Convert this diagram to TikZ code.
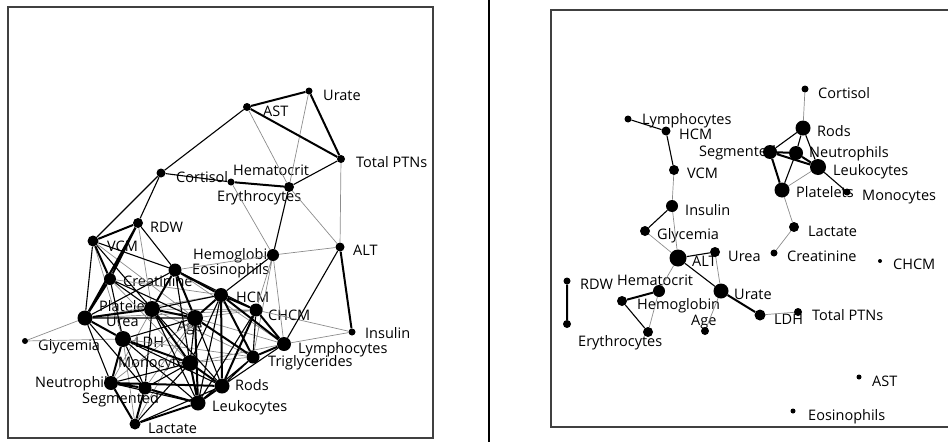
\documentclass[tikz,border=0pt]{standalone}
\usepackage{fontspec}
\setmainfont{Open Sans}
\usepackage{tikz}
\pgfdeclarelayer{labels}
\pgfdeclarelayer{edges}
\pgfsetlayers{labels,edges,main}

\begin{document}
\begin{tikzpicture}[
    x=1pt, y=-1pt,
    vtx/.style={circle, fill=black, inner sep=0pt, minimum size=#1},
    lbl/.style={anchor=west, inner sep=0pt, text height=9.5pt, text depth=2.5pt,
                font=\fontsize{14.5}{16}\selectfont},
    edge-strong/.style={line width=2pt},
    edge-mid/.style={line width=1.1pt},
    edge-weak/.style={line width=0.7pt, black!45},
    frame/.style={line width=1.3pt, black!75}
]
    \useasboundingbox (0,0) rectangle (948,442);

    % Frames
    \draw[frame] (8,7) rectangle (433,438);
    \draw[line width=1.6pt] (489,0) -- (489,442);
    \draw[frame] (948,10) -- (551,10) -- (551,427) -- (948,427);

    % Left network: vertices
    \node[vtx=7pt] (l-urate) at (309,91) {};
    \node[vtx=8pt] (l-ast) at (247,107) {};
    \node[vtx=8pt] (l-tptn) at (341,159) {};
    \node[vtx=9pt] (l-cort) at (161,173) {};
    \node[vtx=7pt] (l-hct) at (231,182) {};
    \node[vtx=10pt] (l-ery) at (289,187) {};
    \node[vtx=10pt] (l-rdw) at (138,223) {};
    \node[vtx=11pt] (l-vcm) at (93,241) {};
    \node[vtx=12pt] (l-hgb) at (273,255) {};
    \node[vtx=9pt] (l-alt) at (340,247) {};
    \node[vtx=13pt] (l-eos) at (175,270) {};
    \node[vtx=12pt] (l-crea) at (110,279) {};
    \node[vtx=14pt] (l-hcm) at (221,295) {};
    \node[vtx=13pt] (l-chcm) at (256,310) {};
    \node[vtx=15pt] (l-plt) at (85,318) {};
    \node[vtx=16pt] (l-urea) at (152,309) {};
    \node[vtx=16pt] (l-age) at (195,318) {};
    \node[vtx=16pt] (l-ldh) at (123,339) {};
    \node[vtx=7pt] (l-ins) at (352,332) {};
    \node[vtx=6pt] (l-gly) at (25,341) {};
    \node[vtx=14pt] (l-lym) at (284,344) {};
    \node[vtx=13pt] (l-tg) at (253,357) {};
    \node[vtx=16pt] (l-mono) at (190,363) {};
    \node[vtx=14pt] (l-neu) at (111,383) {};
    \node[vtx=13pt] (l-seg) at (145,388) {};
    \node[vtx=15pt] (l-rods) at (222,386) {};
    \node[vtx=15pt] (l-leu) at (198,403) {};
    \node[vtx=11pt] (l-lac) at (135,424) {};

    % Left network: labels
    \begin{pgfonlayer}{labels}
    \node[lbl] (l-urate-t) at (323,97) {Urate};
    \node[lbl] (l-ast-t) at (263,113) {AST};
    \node[lbl] (l-tptn-t) at (356,164) {Total PTNs};
    \node[lbl] (l-cort-t) at (176,179) {Cortisol};
    \node[lbl] (l-hct-t) at (233,172) {Hematocrit};
    \node[lbl] (l-ery-t) at (217,198) {Erythrocytes};
    \node[lbl] (l-rdw-t) at (150,229) {RDW};
    \node[lbl] (l-vcm-t) at (107,248) {VCM};
    \node[lbl] (l-alt-t) at (353,252) {ALT};
    \node[lbl] (l-hgb-t) at (193,256) {Hemoglobin};
    \node[lbl] (l-eos-t) at (192,271) {Eosinophils};
    \node[lbl] (l-crea-t) at (123,283) {Creatinine};
    \node[lbl] (l-hcm-t) at (236,299) {HCM};
    \node[lbl] (l-chcm-t) at (268,317) {CHCM};
    \node[lbl] (l-plt-t) at (99,308) {Platelets};
    \node[lbl] (l-urea-t) at (106,323) {Urea};
    \node[lbl] (l-age-t) at (177,328) {Age};
    \node[lbl] (l-ins-t) at (365,335) {Insulin};
    \node[lbl] (l-gly-t) at (38,347) {Glycemia};
    \node[lbl] (l-ldh-t) at (135,344) {LDH};
    \node[lbl] (l-lym-t) at (298,349.5) {Lymphocytes};
    \node[lbl] (l-tg-t) at (268,363) {Triglycerides};
    \node[lbl] (l-mono-t) at (118,364) {Monocytes};
    \node[lbl] (l-neu-t) at (35,384) {Neutrophils};
    \node[lbl] (l-seg-t) at (82,400) {Segmented};
    \node[lbl] (l-rods-t) at (235,387) {Rods};
    \node[lbl] (l-leu-t) at (212,408) {Leukocytes};
    \node[lbl] (l-lac-t) at (148,430) {Lactate};
    \end{pgfonlayer}

    % Left network: edges
    \begin{pgfonlayer}{edges}
    \draw[edge-weak] (l-ast) -- (l-ery) (l-urate) -- (l-ery) (l-tptn) -- (l-alt)
        (l-hct) -- (l-hgb) (l-ery) -- (l-alt) (l-hgb) -- (l-alt) (l-hgb) -- (l-chcm)
        (l-hgb) -- (l-lym) (l-chcm) -- (l-ins) (l-lym) -- (l-ins) (l-gly) -- (l-plt)
        (l-gly) -- (l-ldh) (l-rdw) -- (l-urea) (l-vcm) -- (l-age) (l-vcm) -- (l-ldh)
        (l-eos) -- (l-lym) (l-crea) -- (l-hcm) (l-plt) -- (l-hcm) (l-urea) -- (l-chcm)
        (l-age) -- (l-chcm) (l-age) -- (l-lym) (l-ldh) -- (l-tg) (l-mono) -- (l-tg)
        (l-mono) -- (l-lym) (l-neu) -- (l-age) (l-seg) -- (l-age) (l-lac) -- (l-age)
        (l-crea) -- (l-mono) (l-urea) -- (l-tg) (l-hgb) -- (l-tg) (l-ldh) -- (l-lac)
        (l-neu) -- (l-urea) (l-plt) -- (l-chcm) (l-hgb) -- (l-eos);
    \draw[edge-mid] (l-cort) -- (l-ast) (l-cort) -- (l-hct) (l-cort) -- (l-vcm)
        (l-cort) -- (l-rdw) (l-tptn) -- (l-ery) (l-rdw) -- (l-eos) (l-vcm) -- (l-eos)
        (l-vcm) -- (l-plt) (l-hgb) -- (l-ery) (l-hgb) -- (l-hcm) (l-alt) -- (l-lym)
        (l-plt) -- (l-age) (l-urea) -- (l-hcm) (l-ldh) -- (l-age) (l-tg) -- (l-rods)
        (l-tg) -- (l-leu) (l-lym) -- (l-rods) (l-chcm) -- (l-leu) (l-age) -- (l-mono)
        (l-hcm) -- (l-mono) (l-hcm) -- (l-leu) (l-urea) -- (l-rods) (l-urea) -- (l-leu)
        (l-urea) -- (l-seg) (l-ldh) -- (l-rods) (l-ldh) -- (l-leu) (l-neu) -- (l-mono)
        (l-seg) -- (l-mono) (l-mono) -- (l-lac) (l-neu) -- (l-leu) (l-rods) -- (l-lac)
        (l-plt) -- (l-neu) (l-plt) -- (l-seg) (l-crea) -- (l-urea) (l-crea) -- (l-ldh)
        (l-crea) -- (l-age) (l-ldh) -- (l-seg) (l-eos) -- (l-chcm) (l-eos) -- (l-mono)
        (l-age) -- (l-rods) (l-chcm) -- (l-tg) (l-vcm) -- (l-urea) (l-eos) -- (l-plt);
    \draw[edge-strong] (l-ast) -- (l-urate) (l-ast) -- (l-tptn) (l-urate) -- (l-tptn)
        (l-hct) -- (l-ery) (l-alt) -- (l-ins) (l-rdw) -- (l-vcm) (l-rdw) -- (l-crea)
        (l-vcm) -- (l-crea) (l-crea) -- (l-plt) (l-plt) -- (l-ldh) (l-rdw) -- (l-plt)
        (l-urea) -- (l-eos) (l-urea) -- (l-age) (l-eos) -- (l-age) (l-hcm) -- (l-age)
        (l-hcm) -- (l-chcm) (l-hcm) -- (l-lym) (l-chcm) -- (l-lym) (l-age) -- (l-tg)
        (l-hcm) -- (l-tg) (l-chcm) -- (l-rods) (l-hcm) -- (l-rods) (l-age) -- (l-leu)
        (l-mono) -- (l-rods) (l-mono) -- (l-leu) (l-neu) -- (l-seg) (l-neu) -- (l-rods)
        (l-seg) -- (l-leu) (l-neu) -- (l-lac) (l-seg) -- (l-lac) (l-leu) -- (l-lac)
        (l-rods) -- (l-leu) (l-ldh) -- (l-neu) (l-ldh) -- (l-mono) (l-urea) -- (l-mono)
        (l-plt) -- (l-urea) (l-eos) -- (l-hcm) (l-tg) -- (l-lym);
    \end{pgfonlayer}

    % Right network: vertices
    \node[vtx=7pt] (r-cort) at (805,89) {};
    \node[vtx=15pt] (r-rods) at (803,128) {};
    \node[vtx=14pt] (r-seg) at (770,152) {};
    \node[vtx=14pt] (r-neu) at (796,153) {};
    \node[vtx=16pt] (r-leu) at (818,167) {};
    \node[vtx=15pt] (r-plt) at (782,190) {};
    \node[vtx=7pt] (r-mono) at (847,192) {};
    \node[vtx=7pt] (r-lym) at (628,119) {};
    \node[vtx=9pt] (r-hcm) at (666,131) {};
    \node[vtx=10pt] (r-vcm) at (674,170) {};
    \node[vtx=12pt] (r-ins) at (672,206) {};
    \node[vtx=10pt] (r-lac) at (794,227) {};
    \node[vtx=10pt] (r-gly) at (645,231) {};
    \node[vtx=17pt] (r-alt) at (678,258) {};
    \node[vtx=10pt] (r-urea) at (715,252) {};
    \node[vtx=7pt] (r-crea) at (774,253) {};
    \node[vtx=4pt] (r-chcm) at (880,261) {};
    \node[vtx=7pt] (r-rdw) at (567,281) {};
    \node[vtx=12pt] (r-hct) at (659,291) {};
    \node[vtx=10pt] (r-hgb) at (622,301) {};
    \node[vtx=15pt] (r-urate) at (721,291) {};
    \node[vtx=11pt] (r-ldh) at (760,315) {};
    \node[vtx=8pt] (r-tptn) at (798,312) {};
    \node[vtx=8pt] (r-age) at (705,331) {};
    \node[vtx=10pt] (r-ery) at (648,332) {};
    \node[vtx=8pt] (r-tg) at (567,324) {};
    \node[vtx=5pt] (r-ast) at (859,377) {};
    \node[vtx=5pt] (r-eos) at (793,411) {};

    % Right network: labels
    \begin{pgfonlayer}{labels}
    \node[lbl] (r-cort-t) at (818,95) {Cortisol};
    \node[lbl] (r-rods-t) at (817,133) {Rods};
    \node[lbl] (r-seg-t) at (699,153) {Segmented};
    \node[lbl] (r-neu-t) at (809,154) {Neutrophils};
    \node[lbl] (r-leu-t) at (833,172) {Leukocytes};
    \node[lbl] (r-plt-t) at (796,194) {Platelets};
    \node[lbl] (r-mono-t) at (862,197) {Monocytes};
    \node[lbl] (r-lym-t) at (642,121) {Lymphocytes};
    \node[lbl] (r-hcm-t) at (679,136) {HCM};
    \node[lbl] (r-vcm-t) at (687,175) {VCM};
    \node[lbl] (r-ins-t) at (685,212) {Insulin};
    \node[lbl] (r-lac-t) at (808,233) {Lactate};
    \node[lbl] (r-gly-t) at (657,236) {Glycemia};
    \node[lbl] (r-alt-t) at (692,263) {ALT};
    \node[lbl] (r-urea-t) at (728,258) {Urea};
    \node[lbl] (r-crea-t) at (787,258) {Creatinine};
    \node[lbl] (r-chcm-t) at (893,266) {CHCM};
    \node[lbl] (r-rdw-t) at (580,286) {RDW};
    \node[lbl] (r-hct-t) at (617,282) {Hematocrit};
    \node[lbl] (r-hgb-t) at (637,306) {Hemoglobin};
    \node[lbl] (r-urate-t) at (734,296) {Urate};
    \node[lbl] (r-ldh-t) at (774,321) {LDH};
    \node[lbl] (r-tptn-t) at (812,317) {Total PTNs};
    \node[lbl] (r-age-t) at (691,322) {Age};
    \node[lbl] (r-ery-t) at (578,343) {Erythrocytes};
    \node[lbl] (r-ast-t) at (872,383) {AST};
    \node[lbl] (r-eos-t) at (808,417) {Eosinophils};
    \end{pgfonlayer}

    % Right network: edges
    \begin{pgfonlayer}{edges}
    \draw[edge-weak] (r-cort) -- (r-rods) (r-plt) -- (r-leu) (r-plt) -- (r-lac)
        (r-lac) -- (r-crea) (r-vcm) -- (r-ins) (r-ins) -- (r-alt) (r-gly) -- (r-alt)
        (r-alt) -- (r-hct) (r-hct) -- (r-ery) (r-ldh) -- (r-tptn) (r-urate) -- (r-age)
        (r-urea) -- (r-urate);
    \draw[edge-mid] (r-rods) -- (r-seg) (r-rods) -- (r-neu) (r-rods) -- (r-leu)
        (r-neu) -- (r-plt) (r-leu) -- (r-mono) (r-lym) -- (r-hcm) (r-hcm) -- (r-vcm)
        (r-ins) -- (r-gly) (r-alt) -- (r-urea) (r-alt) -- (r-urate) (r-hgb) -- (r-ery);
    \draw[edge-strong] (r-seg) -- (r-neu) (r-seg) -- (r-leu) (r-neu) -- (r-leu)
        (r-seg) -- (r-plt) (r-hct) -- (r-hgb) (r-urate) -- (r-ldh) (r-rdw) -- (r-tg);
    \end{pgfonlayer}
\end{tikzpicture}
\end{document}
